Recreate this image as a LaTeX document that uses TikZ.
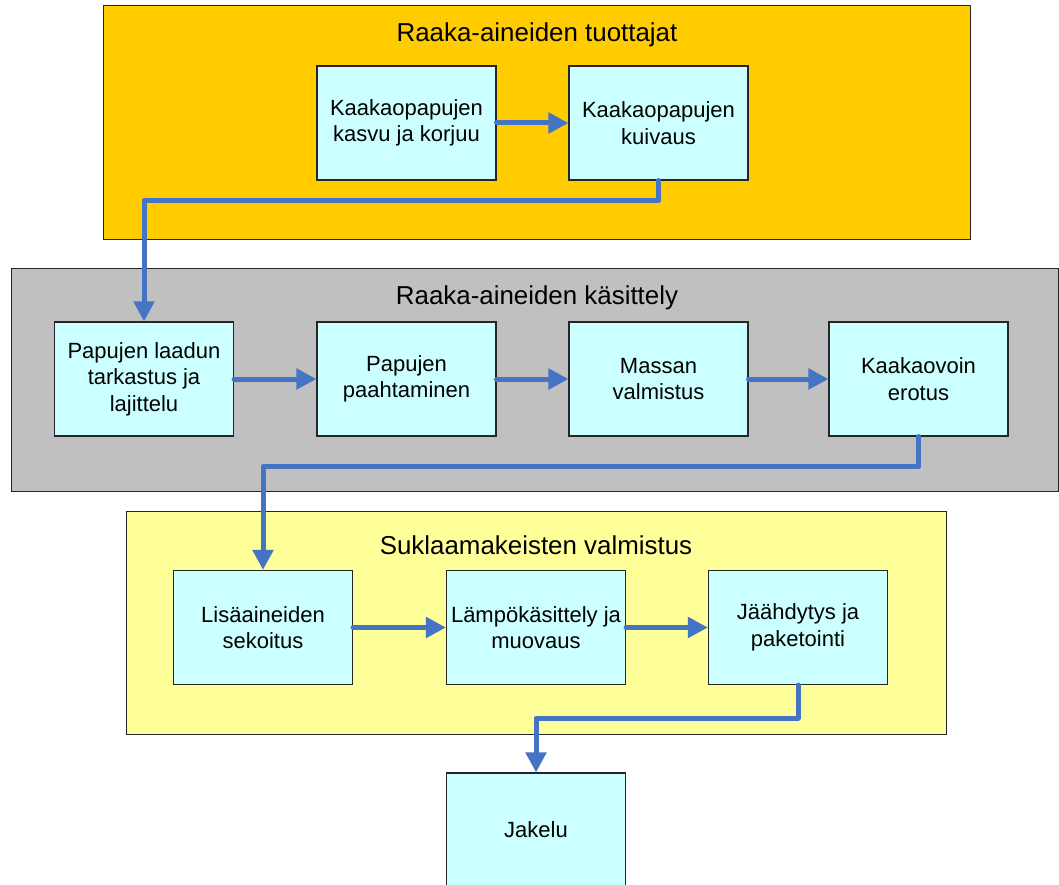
\documentclass[tikz,border=0pt]{standalone}
\usepackage{fontspec}
\setmainfont{Liberation Sans}
\usetikzlibrary{arrows.meta}
\definecolor{orangefill}{HTML}{FFCC00}
\definecolor{grayfill}{HTML}{C0C0C0}
\definecolor{yellowfill}{HTML}{FFFF99}
\definecolor{boxfill}{HTML}{CCFFFF}
\definecolor{flowblue}{HTML}{4674C4}
\begin{document}
\begin{tikzpicture}[x=1pt,y=-1pt,
  panel/.style={draw=black!85,line width=1pt},
  paneltitle/.style={font=\fontsize{25.9}{31}\selectfont,inner sep=0pt},
  stepbox/.style={draw=black!85,line width=1.1pt,fill=boxfill,minimum width=179pt,
    minimum height=114pt,inner sep=0pt,align=center,
    font=\fontsize{22}{26.5}\selectfont},
  flow/.style={draw=flowblue,line width=5pt,line join=round,line cap=round,
    -{Triangle[length=20pt,width=20pt]}}]
\useasboundingbox (0,0) rectangle (1059,885);
\clip (0,0) rectangle (1059,885);
\fill[white] (0,0) rectangle (1059,885);

% stage panels
\draw[panel,fill=orangefill] (103,6) rectangle (970,240);
\draw[panel,fill=grayfill] (11,268) rectangle (1058,491);
\draw[panel,fill=yellowfill] (126,511) rectangle (946,734);

\node[paneltitle] (t1) at (537,35) {Raaka-aineiden tuottajat};
\node[paneltitle] (t2) at (537,298) {Raaka-aineiden käsittely};
\node[paneltitle] (t3) at (536,545) {Suklaamakeisten valmistus};

% process steps
\node[stepbox] (b1) at (406.5,123) {Kaakaopapujen\\kasvu ja korjuu};
\node[stepbox] (b2) at (658.5,123) {Kaakaopapujen\\kuivaus};

\node[stepbox] (a) at (144,379) {Papujen laadun\\tarkastus ja\\lajittelu};
\node[stepbox] (b) at (406.5,379) {Papujen\\paahtaminen};
\node[stepbox] (c) at (658.5,379) {Massan\\valmistus};
\node[stepbox] (d) at (918.5,379) {Kaakaovoin\\erotus};

\node[stepbox] (e) at (263,627.5) {Lisäaineiden\\sekoitus};
\node[stepbox] (f) at (536,627.5) {Lämpökäsittely ja\\muovaus};
\node[stepbox] (g) at (798,627.5) {Jäähdytys ja\\paketointi};

\node[stepbox] (j) at (536,830) {Jakelu};

% flow connectors
\draw[flow] (b1.east) -- (b2.west);
\draw[flow] (b2.south) -- ++(0,20) -| (a.north);
\draw[flow] (a.east) -- (b.west);
\draw[flow] (b.east) -- (c.west);
\draw[flow] (c.east) -- (d.west);
\draw[flow] (d.south) -- ++(0,30) -| (e.north);
\draw[flow] (e.east) -- (f.west);
\draw[flow] (f.east) -- (g.west);
\draw[flow] (g.south) -- ++(0,33) -| (j.north);
\end{tikzpicture}
\end{document}
